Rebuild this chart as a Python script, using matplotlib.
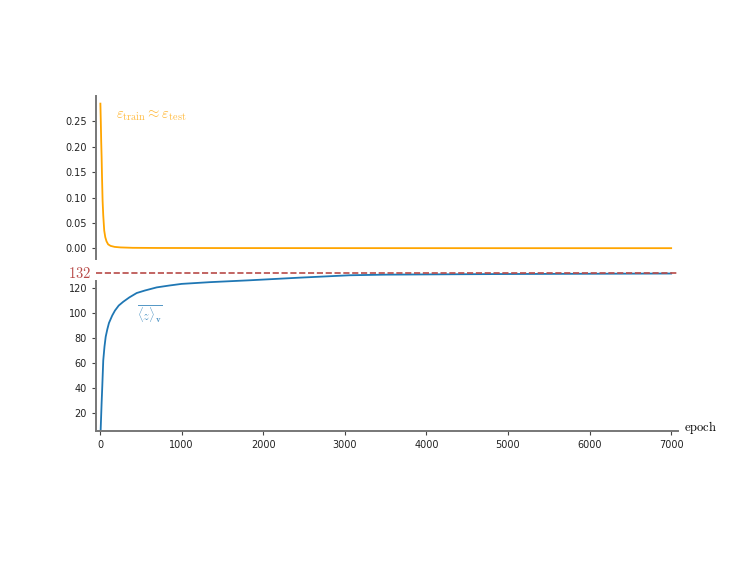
import numpy as np
import matplotlib
matplotlib.use('Agg')
import matplotlib.pyplot as plt

plt.rcParams['mathtext.fontset'] = 'cm'

# training / test error (top panel)
err_epoch = [5, 10, 15, 20, 25, 32, 40, 52, 65, 80, 100, 130, 180, 250,
             400, 700, 1500, 3000, 5000, 7000]
err = [0.285, 0.25, 0.21, 0.18, 0.14, 0.094, 0.065, 0.035, 0.022, 0.014,
       0.008, 0.005, 0.003, 0.002, 0.0012, 0.0009, 0.0007, 0.0006, 0.0005, 0.0005]

# mean number of active units (bottom panel)
z_epoch = [8, 20, 28, 40, 55, 70, 90, 110, 150, 184, 230, 285, 360, 450, 550,
           695, 850, 1000, 1350, 1838, 2450, 3060, 3500, 4300, 5000, 6000, 7000]
z = [6, 28, 41, 62, 73, 81, 87, 92, 98, 102, 106, 109, 112.5, 116, 118,
     120.5, 122, 123.3, 124.7, 126.2, 128.3, 130.2, 130.7, 131, 131.2, 131.4, 131.6]
z_target = 132

err_ticks = [0.0, 0.05, 0.10, 0.15, 0.20, 0.25]
z_ticks = [20, 40, 60, 80, 100, 120]
x_ticks = [0, 1000, 2000, 3000, 4000, 5000, 6000, 7000]

fig = plt.figure(figsize=(7.54, 5.63), dpi=100)
ax1 = fig.add_axes([0.1273, 0.5407, 0.7715, 0.2888])
ax2 = fig.add_axes([0.1273, 0.2345, 0.7715, 0.2850])

spine_col = '#777777'
red = '#b84a48'
xlim = (-49, 7080)

# top panel
ax1.plot(err_epoch, err, color='orange', lw=1.3)
ax1.set_xlim(*xlim)
ax1.set_ylim(-0.02, 0.3)
ax1.set_yticks(err_ticks)
ax1.set_xticks([])
for s in ['top', 'right', 'bottom']:
    ax1.spines[s].set_visible(False)
ax1.text(196, 0.262, r'$\varepsilon_{\rm train} \approx \varepsilon_{\rm test}$',
         color='orange', alpha=0.75, fontsize=10.5, va='center')

# bottom panel
ax2.plot(z_epoch, z, color='tab:blue', lw=1.3)
ax2.axhline(z_target, color=red, ls='--', lw=1.2, clip_on=False)
ax2.set_xlim(*xlim)
ax2.set_ylim(5.6, 134)
ax2.set_yticks(z_ticks)
ax2.set_xticks(x_ticks)
for s in ['top', 'right']:
    ax2.spines[s].set_visible(False)
ax2.spines['left'].set_bounds(5.6, 126)
ax2.text(453, 99.2, r'$\overline{\langle z\rangle_{\mathbf{v}}}$',
         color='tab:blue', alpha=0.75, fontsize=9, va='center')
ax2.text(-0.008, z_target, r'$132$', transform=ax2.get_yaxis_transform(),
         color=red, fontsize=10.5, ha='right', va='center')
ax2.text(1.01, 0.02, r'$\mathrm{epoch}$', transform=ax2.transAxes, fontsize=9,
         ha='left', va='center')

for ax in (ax1, ax2):
    for s in ['left', 'bottom']:
        ax.spines[s].set_color(spine_col)
        ax.spines[s].set_linewidth(1.4)
    ax.tick_params(labelsize=7, length=3, width=0.8, color='#444444',
                   labelcolor='#222222')

fig.savefig('out.png', dpi=100)
